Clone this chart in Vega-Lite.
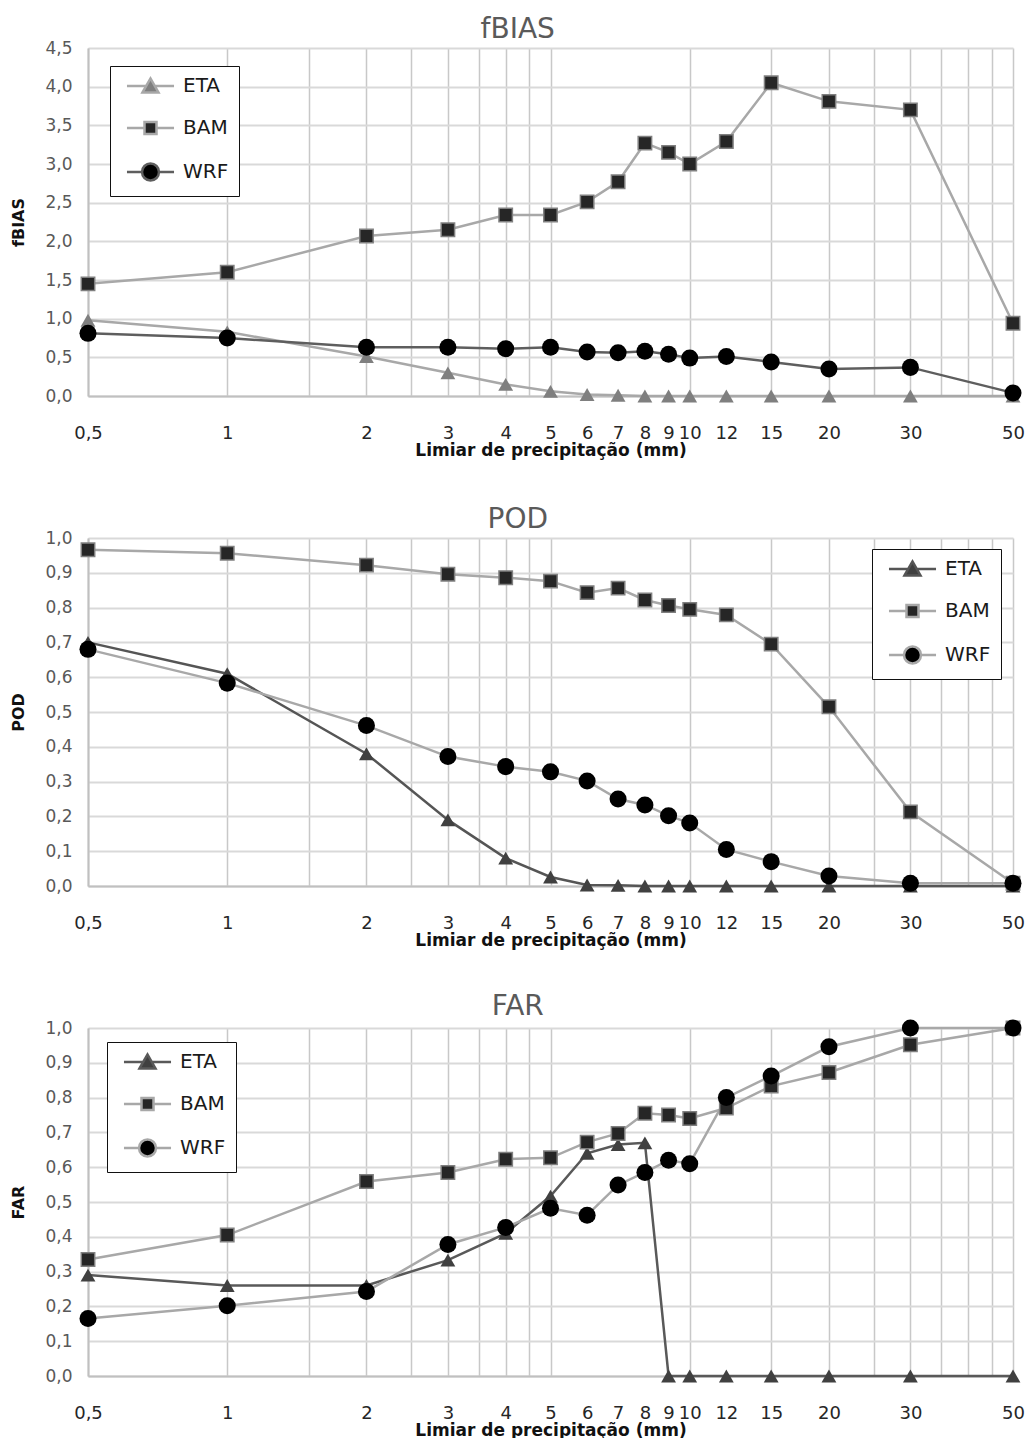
{
  "$schema": "https://vega.github.io/schema/vega-lite/v6.json",
  "padding": {"left": 10, "top": 16, "right": 0, "bottom": 0},
  "config": {
    "view": {"stroke": null},
    "font": "DejaVu Sans",
    "legend": {
      "orient": "none",
      "title": null,
      "padding": 10,
      "rowPadding": 19,
      "symbolOffset": 20.5,
      "labelOffset": 22.5,
      "labelFont": "DejaVu Sans",
      "labelFontSize": 20,
      "labelColor": "#1a1a1a",
      "symbolSize": 256,
      "symbolStrokeWidth": 2.5,
      "symbolOpacity": 1,
      "strokeColor": "#111111",
      "fillColor": "#ffffff"
    }
  },
  "datasets": {
    "scores": [
      {"m":"fBIAS","model":"ETA","thr":0.5,"v":0.98},{"m":"fBIAS","model":"ETA","thr":1,"v":0.83},{"m":"fBIAS","model":"ETA","thr":2,"v":0.51},{"m":"fBIAS","model":"ETA","thr":3,"v":0.30},{"m":"fBIAS","model":"ETA","thr":4,"v":0.15},{"m":"fBIAS","model":"ETA","thr":5,"v":0.06},{"m":"fBIAS","model":"ETA","thr":6,"v":0.02},{"m":"fBIAS","model":"ETA","thr":7,"v":0.01},{"m":"fBIAS","model":"ETA","thr":8,"v":0},{"m":"fBIAS","model":"ETA","thr":9,"v":0},{"m":"fBIAS","model":"ETA","thr":10,"v":0},{"m":"fBIAS","model":"ETA","thr":12,"v":0},{"m":"fBIAS","model":"ETA","thr":15,"v":0},{"m":"fBIAS","model":"ETA","thr":20,"v":0},{"m":"fBIAS","model":"ETA","thr":30,"v":0},{"m":"fBIAS","model":"ETA","thr":50,"v":0},
      {"m":"fBIAS","model":"BAM","thr":0.5,"v":1.45},{"m":"fBIAS","model":"BAM","thr":1,"v":1.60},{"m":"fBIAS","model":"BAM","thr":2,"v":2.07},{"m":"fBIAS","model":"BAM","thr":3,"v":2.15},{"m":"fBIAS","model":"BAM","thr":4,"v":2.34},{"m":"fBIAS","model":"BAM","thr":5,"v":2.34},{"m":"fBIAS","model":"BAM","thr":6,"v":2.51},{"m":"fBIAS","model":"BAM","thr":7,"v":2.77},{"m":"fBIAS","model":"BAM","thr":8,"v":3.27},{"m":"fBIAS","model":"BAM","thr":9,"v":3.15},{"m":"fBIAS","model":"BAM","thr":10,"v":3.00},{"m":"fBIAS","model":"BAM","thr":12,"v":3.29},{"m":"fBIAS","model":"BAM","thr":15,"v":4.05},{"m":"fBIAS","model":"BAM","thr":20,"v":3.81},{"m":"fBIAS","model":"BAM","thr":30,"v":3.70},{"m":"fBIAS","model":"BAM","thr":50,"v":0.94},
      {"m":"fBIAS","model":"WRF","thr":0.5,"v":0.81},{"m":"fBIAS","model":"WRF","thr":1,"v":0.75},{"m":"fBIAS","model":"WRF","thr":2,"v":0.63},{"m":"fBIAS","model":"WRF","thr":3,"v":0.63},{"m":"fBIAS","model":"WRF","thr":4,"v":0.61},{"m":"fBIAS","model":"WRF","thr":5,"v":0.63},{"m":"fBIAS","model":"WRF","thr":6,"v":0.57},{"m":"fBIAS","model":"WRF","thr":7,"v":0.56},{"m":"fBIAS","model":"WRF","thr":8,"v":0.58},{"m":"fBIAS","model":"WRF","thr":9,"v":0.54},{"m":"fBIAS","model":"WRF","thr":10,"v":0.49},{"m":"fBIAS","model":"WRF","thr":12,"v":0.51},{"m":"fBIAS","model":"WRF","thr":15,"v":0.44},{"m":"fBIAS","model":"WRF","thr":20,"v":0.35},{"m":"fBIAS","model":"WRF","thr":30,"v":0.37},{"m":"fBIAS","model":"WRF","thr":50,"v":0.04},
      {"m":"POD","model":"ETA","thr":0.5,"v":0.70},{"m":"POD","model":"ETA","thr":1,"v":0.61},{"m":"POD","model":"ETA","thr":2,"v":0.38},{"m":"POD","model":"ETA","thr":3,"v":0.19},{"m":"POD","model":"ETA","thr":4,"v":0.08},{"m":"POD","model":"ETA","thr":5,"v":0.026},{"m":"POD","model":"ETA","thr":6,"v":0.003},{"m":"POD","model":"ETA","thr":7,"v":0.002},{"m":"POD","model":"ETA","thr":8,"v":0},{"m":"POD","model":"ETA","thr":9,"v":0},{"m":"POD","model":"ETA","thr":10,"v":0},{"m":"POD","model":"ETA","thr":12,"v":0},{"m":"POD","model":"ETA","thr":15,"v":0},{"m":"POD","model":"ETA","thr":20,"v":0},{"m":"POD","model":"ETA","thr":30,"v":0},{"m":"POD","model":"ETA","thr":50,"v":0},
      {"m":"POD","model":"BAM","thr":0.5,"v":0.966},{"m":"POD","model":"BAM","thr":1,"v":0.956},{"m":"POD","model":"BAM","thr":2,"v":0.922},{"m":"POD","model":"BAM","thr":3,"v":0.896},{"m":"POD","model":"BAM","thr":4,"v":0.886},{"m":"POD","model":"BAM","thr":5,"v":0.876},{"m":"POD","model":"BAM","thr":6,"v":0.843},{"m":"POD","model":"BAM","thr":7,"v":0.856},{"m":"POD","model":"BAM","thr":8,"v":0.822},{"m":"POD","model":"BAM","thr":9,"v":0.806},{"m":"POD","model":"BAM","thr":10,"v":0.795},{"m":"POD","model":"BAM","thr":12,"v":0.779},{"m":"POD","model":"BAM","thr":15,"v":0.695},{"m":"POD","model":"BAM","thr":20,"v":0.515},{"m":"POD","model":"BAM","thr":30,"v":0.213},{"m":"POD","model":"BAM","thr":50,"v":0.008},
      {"m":"POD","model":"WRF","thr":0.5,"v":0.68},{"m":"POD","model":"WRF","thr":1,"v":0.583},{"m":"POD","model":"WRF","thr":2,"v":0.461},{"m":"POD","model":"WRF","thr":3,"v":0.372},{"m":"POD","model":"WRF","thr":4,"v":0.343},{"m":"POD","model":"WRF","thr":5,"v":0.328},{"m":"POD","model":"WRF","thr":6,"v":0.302},{"m":"POD","model":"WRF","thr":7,"v":0.25},{"m":"POD","model":"WRF","thr":8,"v":0.233},{"m":"POD","model":"WRF","thr":9,"v":0.202},{"m":"POD","model":"WRF","thr":10,"v":0.181},{"m":"POD","model":"WRF","thr":12,"v":0.105},{"m":"POD","model":"WRF","thr":15,"v":0.07},{"m":"POD","model":"WRF","thr":20,"v":0.029},{"m":"POD","model":"WRF","thr":30,"v":0.008},{"m":"POD","model":"WRF","thr":50,"v":0.008},
      {"m":"FAR","model":"ETA","thr":0.5,"v":0.29},{"m":"FAR","model":"ETA","thr":1,"v":0.26},{"m":"FAR","model":"ETA","thr":2,"v":0.26},{"m":"FAR","model":"ETA","thr":3,"v":0.333},{"m":"FAR","model":"ETA","thr":4,"v":0.41},{"m":"FAR","model":"ETA","thr":5,"v":0.517},{"m":"FAR","model":"ETA","thr":6,"v":0.64},{"m":"FAR","model":"ETA","thr":7,"v":0.665},{"m":"FAR","model":"ETA","thr":8,"v":0.67},{"m":"FAR","model":"ETA","thr":9,"v":0},{"m":"FAR","model":"ETA","thr":10,"v":0},{"m":"FAR","model":"ETA","thr":12,"v":0},{"m":"FAR","model":"ETA","thr":15,"v":0},{"m":"FAR","model":"ETA","thr":20,"v":0},{"m":"FAR","model":"ETA","thr":30,"v":0},{"m":"FAR","model":"ETA","thr":50,"v":0},
      {"m":"FAR","model":"BAM","thr":0.5,"v":0.335},{"m":"FAR","model":"BAM","thr":1,"v":0.405},{"m":"FAR","model":"BAM","thr":2,"v":0.559},{"m":"FAR","model":"BAM","thr":3,"v":0.585},{"m":"FAR","model":"BAM","thr":4,"v":0.623},{"m":"FAR","model":"BAM","thr":5,"v":0.627},{"m":"FAR","model":"BAM","thr":6,"v":0.672},{"m":"FAR","model":"BAM","thr":7,"v":0.697},{"m":"FAR","model":"BAM","thr":8,"v":0.755},{"m":"FAR","model":"BAM","thr":9,"v":0.75},{"m":"FAR","model":"BAM","thr":10,"v":0.74},{"m":"FAR","model":"BAM","thr":12,"v":0.77},{"m":"FAR","model":"BAM","thr":15,"v":0.833},{"m":"FAR","model":"BAM","thr":20,"v":0.872},{"m":"FAR","model":"BAM","thr":30,"v":0.952},{"m":"FAR","model":"BAM","thr":50,"v":1.0},
      {"m":"FAR","model":"WRF","thr":0.5,"v":0.165},{"m":"FAR","model":"WRF","thr":1,"v":0.202},{"m":"FAR","model":"WRF","thr":2,"v":0.243},{"m":"FAR","model":"WRF","thr":3,"v":0.378},{"m":"FAR","model":"WRF","thr":4,"v":0.427},{"m":"FAR","model":"WRF","thr":5,"v":0.482},{"m":"FAR","model":"WRF","thr":6,"v":0.462},{"m":"FAR","model":"WRF","thr":7,"v":0.549},{"m":"FAR","model":"WRF","thr":8,"v":0.585},{"m":"FAR","model":"WRF","thr":9,"v":0.62},{"m":"FAR","model":"WRF","thr":10,"v":0.61},{"m":"FAR","model":"WRF","thr":12,"v":0.80},{"m":"FAR","model":"WRF","thr":15,"v":0.862},{"m":"FAR","model":"WRF","thr":20,"v":0.946},{"m":"FAR","model":"WRF","thr":30,"v":1.0},{"m":"FAR","model":"WRF","thr":50,"v":1.0}
    ]
  },
  "data": {"name": "scores"},
  "bounds": "flush",
  "spacing": 142,
  "resolve": {
    "scale": {"fill": "independent", "shape": "independent", "stroke": "independent"},
    "legend": {"fill": "independent", "shape": "independent", "stroke": "independent"}
  },
  "vconcat": [
    {
      "title": {"text": "fBIAS", "frame": "bounds", "fontSize": 28, "font": "DejaVu Sans", "fontWeight": "normal", "color": "#5a5a5a", "offset": -5},
      "width": 925, "height": 348,
      "transform": [{"filter": "datum.m === 'fBIAS'"}],
      "encoding": {
        "y": {"field": "v", "type": "quantitative", "scale": {"domain": [0, 4.5], "nice": false},
              "axis": {"values": [0,0.5,1,1.5,2,2.5,3,3.5,4,4.5], "format": ".1f", "labelExpr": "replace(datum.label, '.', ',')", "title": "fBIAS", "titleFontSize": 16, "titleFontWeight": "bold", "titleColor": "#111111", "titlePadding": 18, "labelFontSize": 17, "labelColor": "#595959", "labelPadding": 16, "ticks": false, "domainColor": "#c0c0c0", "domainWidth": 2, "gridColor": "#d9d9d9", "gridWidth": 2, "labelOverlap": false}}
      },
      "layer": [
        {
          "mark": {"type": "line", "strokeWidth": 2.5},
          "encoding": {
            "x": {"field": "thr", "type": "quantitative", "scale": {"type": "log", "domain": [0.5, 50], "nice": false},
                  "axis": {"orient": "top", "values": [0.5,1,1.5,2,2.5,3,3.5,4,4.5,5,10,15,20,25,30,35,40,45,50], "labels": false, "ticks": false, "domain": false, "title": null, "grid": true, "gridColor": "#c8c8c8", "gridWidth": 1.5}},
            "detail": {"field": "model", "type": "nominal"},
            "stroke": {"condition": {"test": "datum.model === 'WRF'", "value": "#5e5e5e"}, "value": "#a8a8a8"}
          }
        },
        {
          "mark": {"type": "point", "filled": true, "opacity": 1, "strokeWidth": 1.5},
          "encoding": {
            "x": {"field": "thr", "type": "quantitative",
                  "axis": {"orient": "bottom", "values": [0.5,1,2,3,4,5,6,7,8,9,10,12,15,20,30,50], "labelExpr": "replace(toString(datum.value), '.', ',')", "grid": false, "ticks": false, "labelOverlap": false, "labelBound": false, "labelFlush": false, "labelFontSize": 18, "labelColor": "#262626", "labelPadding": 28, "domainColor": "#c0c0c0", "domainWidth": 2, "title": "Limiar de precipitação (mm)", "titleFontSize": 17, "titleFontWeight": "bold", "titleColor": "#111111", "titlePadding": 0}},
            "shape": {"condition": [{"test": "datum.model === 'ETA'", "value": "triangle-up"}, {"test": "datum.model === 'BAM'", "value": "square"}], "value": "circle"},
            "fill": {"condition": [{"test": "datum.model === 'ETA'", "value": "#7f7f7f"}, {"test": "datum.model === 'BAM'", "value": "#262626"}], "value": "#000000"},
            "size": {"condition": [{"test": "datum.model === 'ETA'", "value": 220}, {"test": "datum.model === 'WRF'", "value": 290}], "value": 180},
            "stroke": {"condition": {"test": "datum.model === 'BAM'", "value": "#808080"}, "value": "transparent"}
          }
        },
        {
          "mark": {"type": "point", "filled": true, "opacity": 0, "strokeWidth": 2.5},
          "encoding": {
            "x": {"field": "thr", "type": "quantitative", "axis": null},
            "shape": {"field": "model", "type": "nominal", "scale": {"domain": ["ETA","BAM","WRF"], "range": ["M-2.94,0H-0.6M0.6,0H2.94M-1,0.8L0,-0.95L1,0.8Z", "M-2.94,0H-0.75M0.75,0H2.94M-0.75,-0.75H0.75V0.75H-0.75Z", "M-2.94,0H-1.06M1.06,0H2.94M-1.06,0A1.06,1.06,0,1,0,1.06,0A1.06,1.06,0,1,0,-1.06,0Z"]},
                      "legend": {"orient": "none", "legendX": 22, "legendY": 18, "symbolOpacity": 1}},
            "fill": {"field": "model", "type": "nominal", "scale": {"domain": ["ETA","BAM","WRF"], "range": ["#7f7f7f","#262626","#000000"]},
                     "legend": {"orient": "none", "legendX": 22, "legendY": 18, "symbolOpacity": 1}},
            "stroke": {"field": "model", "type": "nominal", "scale": {"domain": ["ETA","BAM","WRF"], "range": ["#a8a8a8","#a8a8a8","#5e5e5e"]},
                       "legend": {"orient": "none", "legendX": 22, "legendY": 18, "symbolOpacity": 1}}
          }
        }
      ],
      "resolve": {"axis": {"x": "independent"}}
    },
    {
      "title": {"text": "POD", "frame": "bounds", "fontSize": 28, "font": "DejaVu Sans", "fontWeight": "normal", "color": "#5a5a5a", "offset": -5},
      "width": 925, "height": 348,
      "transform": [{"filter": "datum.m === 'POD'"}],
      "encoding": {
        "y": {"field": "v", "type": "quantitative", "scale": {"domain": [0, 1], "nice": false},
              "axis": {"values": [0,0.1,0.2,0.3,0.4,0.5,0.6,0.7,0.8,0.9,1], "format": ".1f", "labelExpr": "replace(datum.label, '.', ',')", "title": "POD", "titleFontSize": 16, "titleFontWeight": "bold", "titleColor": "#111111", "titlePadding": 18, "labelFontSize": 17, "labelColor": "#595959", "labelPadding": 16, "ticks": false, "domainColor": "#c0c0c0", "domainWidth": 2, "gridColor": "#d9d9d9", "gridWidth": 2, "labelOverlap": false}}
      },
      "layer": [
        {
          "mark": {"type": "line", "strokeWidth": 2.5},
          "encoding": {
            "x": {"field": "thr", "type": "quantitative", "scale": {"type": "log", "domain": [0.5, 50], "nice": false},
                  "axis": {"orient": "top", "values": [0.5,1,1.5,2,2.5,3,3.5,4,4.5,5,10,15,20,25,30,35,40,45,50], "labels": false, "ticks": false, "domain": false, "title": null, "grid": true, "gridColor": "#c8c8c8", "gridWidth": 1.5}},
            "detail": {"field": "model", "type": "nominal"},
            "stroke": {"condition": {"test": "datum.model === 'ETA'", "value": "#555555"}, "value": "#a8a8a8"}
          }
        },
        {
          "mark": {"type": "point", "filled": true, "opacity": 1, "strokeWidth": 1.5},
          "encoding": {
            "x": {"field": "thr", "type": "quantitative",
                  "axis": {"orient": "bottom", "values": [0.5,1,2,3,4,5,6,7,8,9,10,12,15,20,30,50], "labelExpr": "replace(toString(datum.value), '.', ',')", "grid": false, "ticks": false, "labelOverlap": false, "labelBound": false, "labelFlush": false, "labelFontSize": 18, "labelColor": "#262626", "labelPadding": 28, "domainColor": "#c0c0c0", "domainWidth": 2, "title": "Limiar de precipitação (mm)", "titleFontSize": 17, "titleFontWeight": "bold", "titleColor": "#111111", "titlePadding": 0}},
            "shape": {"condition": [{"test": "datum.model === 'ETA'", "value": "triangle-up"}, {"test": "datum.model === 'BAM'", "value": "square"}], "value": "circle"},
            "fill": {"condition": [{"test": "datum.model === 'ETA'", "value": "#404040"}, {"test": "datum.model === 'BAM'", "value": "#262626"}], "value": "#000000"},
            "size": {"condition": [{"test": "datum.model === 'ETA'", "value": 220}, {"test": "datum.model === 'WRF'", "value": 290}], "value": 180},
            "stroke": {"condition": {"test": "datum.model === 'BAM'", "value": "#808080"}, "value": "transparent"}
          }
        },
        {
          "mark": {"type": "point", "filled": true, "opacity": 0, "strokeWidth": 2.5},
          "encoding": {
            "x": {"field": "thr", "type": "quantitative", "axis": null},
            "shape": {"field": "model", "type": "nominal", "scale": {"domain": ["ETA","BAM","WRF"], "range": ["M-2.94,0H-0.6M0.6,0H2.94M-1,0.8L0,-0.95L1,0.8Z", "M-2.94,0H-0.75M0.75,0H2.94M-0.75,-0.75H0.75V0.75H-0.75Z", "M-2.94,0H-1.06M1.06,0H2.94M-1.06,0A1.06,1.06,0,1,0,1.06,0A1.06,1.06,0,1,0,-1.06,0Z"]},
                      "legend": {"orient": "none", "legendX": 784, "legendY": 11, "symbolOpacity": 1}},
            "fill": {"field": "model", "type": "nominal", "scale": {"domain": ["ETA","BAM","WRF"], "range": ["#404040","#262626","#000000"]},
                     "legend": {"orient": "none", "legendX": 784, "legendY": 11, "symbolOpacity": 1}},
            "stroke": {"field": "model", "type": "nominal", "scale": {"domain": ["ETA","BAM","WRF"], "range": ["#555555","#a8a8a8","#a8a8a8"]},
                       "legend": {"orient": "none", "legendX": 784, "legendY": 11, "symbolOpacity": 1}}
          }
        }
      ],
      "resolve": {"axis": {"x": "independent"}}
    },
    {
      "title": {"text": "FAR", "frame": "bounds", "fontSize": 28, "font": "DejaVu Sans", "fontWeight": "normal", "color": "#5a5a5a", "offset": -5},
      "width": 925, "height": 348,
      "transform": [{"filter": "datum.m === 'FAR'"}],
      "encoding": {
        "y": {"field": "v", "type": "quantitative", "scale": {"domain": [0, 1], "nice": false},
              "axis": {"values": [0,0.1,0.2,0.3,0.4,0.5,0.6,0.7,0.8,0.9,1], "format": ".1f", "labelExpr": "replace(datum.label, '.', ',')", "title": "FAR", "titleFontSize": 16, "titleFontWeight": "bold", "titleColor": "#111111", "titlePadding": 18, "labelFontSize": 17, "labelColor": "#595959", "labelPadding": 16, "ticks": false, "domainColor": "#c0c0c0", "domainWidth": 2, "gridColor": "#d9d9d9", "gridWidth": 2, "labelOverlap": false}}
      },
      "layer": [
        {
          "mark": {"type": "line", "strokeWidth": 2.5},
          "encoding": {
            "x": {"field": "thr", "type": "quantitative", "scale": {"type": "log", "domain": [0.5, 50], "nice": false},
                  "axis": {"orient": "top", "values": [0.5,1,1.5,2,2.5,3,3.5,4,4.5,5,10,15,20,25,30,35,40,45,50], "labels": false, "ticks": false, "domain": false, "title": null, "grid": true, "gridColor": "#c8c8c8", "gridWidth": 1.5}},
            "detail": {"field": "model", "type": "nominal"},
            "stroke": {"condition": {"test": "datum.model === 'ETA'", "value": "#595959"}, "value": "#a8a8a8"}
          }
        },
        {
          "mark": {"type": "point", "filled": true, "opacity": 1, "strokeWidth": 1.5},
          "encoding": {
            "x": {"field": "thr", "type": "quantitative",
                  "axis": {"orient": "bottom", "values": [0.5,1,2,3,4,5,6,7,8,9,10,12,15,20,30,50], "labelExpr": "replace(toString(datum.value), '.', ',')", "grid": false, "ticks": false, "labelOverlap": false, "labelBound": false, "labelFlush": false, "labelFontSize": 18, "labelColor": "#262626", "labelPadding": 28, "domainColor": "#c0c0c0", "domainWidth": 2, "title": "Limiar de precipitação (mm)", "titleFontSize": 17, "titleFontWeight": "bold", "titleColor": "#111111", "titlePadding": 0}},
            "shape": {"condition": [{"test": "datum.model === 'ETA'", "value": "triangle-up"}, {"test": "datum.model === 'BAM'", "value": "square"}], "value": "circle"},
            "fill": {"condition": [{"test": "datum.model === 'ETA'", "value": "#404040"}, {"test": "datum.model === 'BAM'", "value": "#262626"}], "value": "#000000"},
            "size": {"condition": [{"test": "datum.model === 'ETA'", "value": 220}, {"test": "datum.model === 'WRF'", "value": 290}], "value": 180},
            "stroke": {"condition": {"test": "datum.model === 'BAM'", "value": "#808080"}, "value": "transparent"}
          }
        },
        {
          "mark": {"type": "point", "filled": true, "opacity": 0, "strokeWidth": 2.5},
          "encoding": {
            "x": {"field": "thr", "type": "quantitative", "axis": null},
            "shape": {"field": "model", "type": "nominal", "scale": {"domain": ["ETA","BAM","WRF"], "range": ["M-2.94,0H-0.6M0.6,0H2.94M-1,0.8L0,-0.95L1,0.8Z", "M-2.94,0H-0.75M0.75,0H2.94M-0.75,-0.75H0.75V0.75H-0.75Z", "M-2.94,0H-1.06M1.06,0H2.94M-1.06,0A1.06,1.06,0,1,0,1.06,0A1.06,1.06,0,1,0,-1.06,0Z"]},
                      "legend": {"orient": "none", "legendX": 19, "legendY": 14, "symbolOpacity": 1}},
            "fill": {"field": "model", "type": "nominal", "scale": {"domain": ["ETA","BAM","WRF"], "range": ["#404040","#262626","#000000"]},
                     "legend": {"orient": "none", "legendX": 19, "legendY": 14, "symbolOpacity": 1}},
            "stroke": {"field": "model", "type": "nominal", "scale": {"domain": ["ETA","BAM","WRF"], "range": ["#595959","#a8a8a8","#a8a8a8"]},
                       "legend": {"orient": "none", "legendX": 19, "legendY": 14, "symbolOpacity": 1}}
          }
        }
      ],
      "resolve": {"axis": {"x": "independent"}}
    }
  ]
}
